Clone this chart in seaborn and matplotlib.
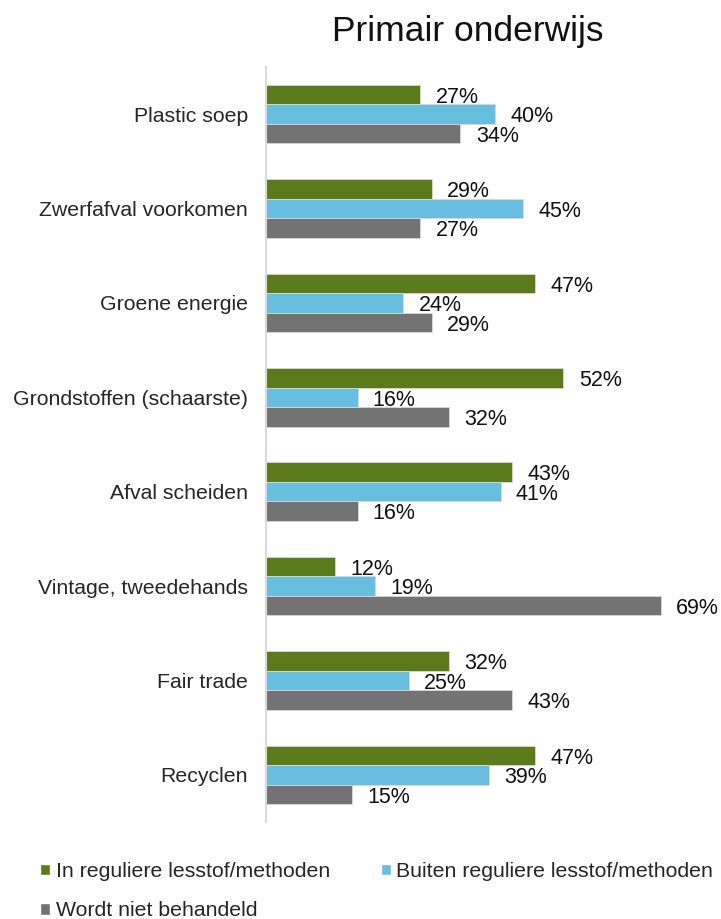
import matplotlib
matplotlib.use("Agg")
import matplotlib.pyplot as plt
import seaborn as sns
import pandas as pd
import numpy as np
from matplotlib.patches import Patch

categories = ["Plastic soep", "Zwerfafval voorkomen", "Groene energie",
              "Grondstoffen (schaarste)", "Afval scheiden", "Vintage, tweedehands",
              "Fair trade", "Recyclen"]
series_names = ["In reguliere lesstof/methoden", "Buiten reguliere lesstof/methoden",
                "Wordt niet behandeld"]
in_regulier = [27, 29, 47, 52, 43, 12, 32, 47]
buiten_regulier = [40, 45, 24, 16, 41, 19, 25, 39]
niet_behandeld = [34, 27, 29, 32, 16, 69, 43, 15]
colors = ["#5B7A1C", "#67BEDF", "#737373"]

rows = []
for name, vals in zip(series_names, [in_regulier, buiten_regulier, niet_behandeld]):
    for c, v in zip(categories, vals):
        rows.append({"cat": c, "series": name, "value": v})
df = pd.DataFrame(rows)

sns.set_theme(style="white")
plt.rcParams["font.family"] = ["Liberation Sans", "DejaVu Sans"]

fig = plt.figure(figsize=(7.21, 9.19), dpi=100)
ax = fig.add_axes([266/721, 1-822/919, 0.99-266/721, (822-67)/919])

sns.barplot(data=df, y="cat", x="value", hue="series", order=categories,
            hue_order=series_names, palette=colors, width=0.62, orient="h",
            edgecolor="#d9d9d9", linewidth=0.6, saturation=1, ax=ax, legend=False)

for cont in ax.containers:
    texts = ax.bar_label(cont, labels=[f"{int(v)}%" for v in cont.datavalues],
                         padding=11, fontsize=15.5, color="#111111")
    for t in texts:
        x0, y0 = t.xyann
        t.xyann = (x0, y0 - 2)

ax.set_xlim(0, (0.99*721-266)/5.72)
ax.set_ylim(len(categories)-0.5, -0.5)
ax.set_xlabel("")
ax.set_ylabel("")
ax.set_xticks([])
ax.tick_params(axis="y", which="major", length=0, pad=13, labelsize=15.3, labelcolor="#262626")
ax.set_yticks(np.arange(-0.5, len(categories)), minor=True)
ax.tick_params(axis="y", which="minor", length=8, width=1.5, color="#d9d9d9")
for s in ["top", "right", "bottom"]:
    ax.spines[s].set_visible(False)
ax.spines["left"].set_color("#d9d9d9")
ax.spines["left"].set_linewidth(1.5)

fig.text(468/721, 1-32/919, "Primair onderwijs", ha="center", va="center",
         fontsize=25.5, color="#111111")

handles = [Patch(facecolor=colors[0]), Patch(facecolor=colors[2]), Patch(facecolor=colors[1])]
labels = [series_names[0], series_names[2], series_names[1]]
fig.legend(handles, labels, ncol=2, loc="upper left", bbox_to_anchor=(40/721, 1-862/919),
           frameon=False, fontsize=15.3, handlelength=0.48, handleheight=0.48,
           handletextpad=0.25, columnspacing=2.4, labelspacing=0.95, borderaxespad=0,
           borderpad=0)

fig.savefig("out.png", dpi=100)
